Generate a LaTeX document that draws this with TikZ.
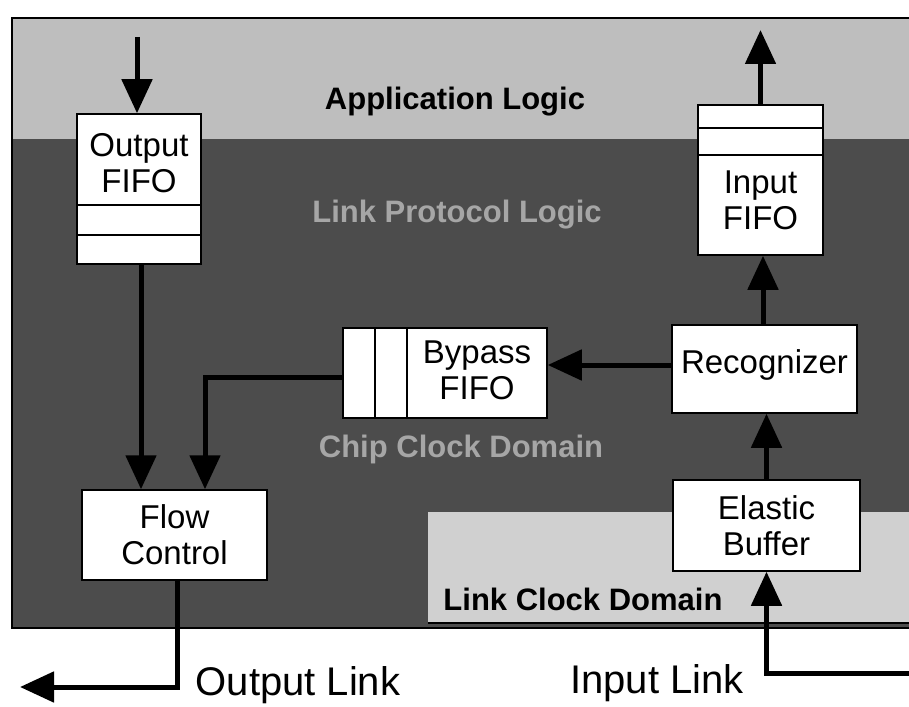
\documentclass[tikz,border=0pt]{standalone}
\usepackage{fontspec}
\setmainfont{Liberation Sans}
\usetikzlibrary{arrows.meta}
\definecolor{appgray}{HTML}{BEBEBE}
\definecolor{chipgray}{HTML}{4C4C4C}
\definecolor{linkgray}{HTML}{D0D0D0}
\definecolor{embossgray}{HTML}{A6A6A6}
\begin{document}
\begin{tikzpicture}[x=1pt,y=-1pt,
  blk/.style={draw=black, line width=1.5pt, fill=white, inner sep=0pt, font=\fontsize{33}{36}\selectfont, align=center},
  lbl/.style={font=\fontsize{33}{36}\selectfont, align=center, inner sep=0pt},
  divider/.style={line width=1.2pt},
  flow/.style={line width=5pt, -{Triangle[length=34pt,width=30pt]}},
  region/.style={font=\fontsize{31}{34}\selectfont\bfseries, inner sep=0pt, anchor=base},
  linklbl/.style={font=\fontsize{40}{44}\selectfont, inner sep=0pt, anchor=base}
]
\useasboundingbox (0,0) rectangle (909,706);
\clip (0,0) rectangle (909,706);
\fill[white] (0,0) rectangle (909,706);
% regions
\fill[appgray] (12,18) rectangle (930,139);
\fill[chipgray] (12,139) rectangle (930,628);
\fill[linkgray] (428,512) rectangle (930,623);
\draw[line width=1.5pt] (12,18) rectangle (930,628);
\draw[line width=1.5pt] (428,623) -- (930,623);
% region labels
\node[region] (applbl) at (455,110) {Application Logic};
\node[region, text=embossgray] (protolbl) at (457,222) {Link Protocol Logic};
\node[region, text=embossgray] (chiplbl) at (461,457) {Chip Clock Domain};
\node[region] (linkclk) at (583,610) {Link Clock Domain};
% boxes
\node[blk, minimum width=124pt, minimum height=150pt] (outfifo) at (139,189) {};
\node[lbl] (outfifotxt) at (139,163) {Output\\FIFO};
\draw[divider] (outfifo.west |- 0,205) -- (outfifo.east |- 0,205);
\draw[divider] (outfifo.west |- 0,235) -- (outfifo.east |- 0,235);

\node[blk, minimum width=125pt, minimum height=150pt] (infifo) at (760.5,180) {};
\node[lbl] (infifotxt) at (760.5,200.5) {Input\\FIFO};
\draw[divider] (infifo.west |- 0,128) -- (infifo.east |- 0,128);
\draw[divider] (infifo.west |- 0,155) -- (infifo.east |- 0,155);

\node[blk, minimum width=204pt, minimum height=90pt] (bypass) at (445,373) {};
\node[lbl] (bypasstxt) at (477,370.5) {Bypass\\FIFO};
\draw[divider] (bypass.north -| 375,0) -- (bypass.south -| 375,0);
\draw[divider] (bypass.north -| 407,0) -- (bypass.south -| 407,0);

\node[blk, minimum width=185pt, minimum height=88pt, text depth=14pt] (recog) at (764.5,369) {Recognizer};
\node[blk, minimum width=185pt, minimum height=90pt] (flowctl) at (174.5,535) {Flow\\Control};
\node[blk, minimum width=187pt, minimum height=91pt] (elastic) at (766.5,525.5) {Elastic\\Buffer};

% link labels
\node[linklbl] (outlink) at (298,695) {Output Link};
\node[linklbl] (inlink) at (657,693) {Input Link};

% connectors
\coordinate (appin) at (137,37);
\coordinate (appout) at (760.5,30);
\coordinate (inlinkstart) at (930,673);
\coordinate (outlinkend) at (20,687);

\draw[flow] (appin) -- (appin |- outfifo.north);
\draw[flow] ([xshift=2pt]outfifo.south) -- ([xshift=2pt]outfifo.south |- flowctl.north);
\draw[flow] ([yshift=-4pt]bypass.west) -| ([xshift=30.5pt]flowctl.north);
\draw[flow] ([yshift=4pt]recog.west) -- ([yshift=4pt]recog.west -| bypass.east);
\draw[flow] ([xshift=-1.5pt]recog.north) -- ([xshift=-1.5pt]recog.north |- infifo.south);
\draw[flow] (infifo.north) -- (appout);
\draw[flow] (elastic.north) -- (elastic.north |- recog.south);
\draw[flow] (inlinkstart) -| (elastic.south);
\draw[flow] ([xshift=2.5pt]flowctl.south) |- (outlinkend);
\end{tikzpicture}
\end{document}
